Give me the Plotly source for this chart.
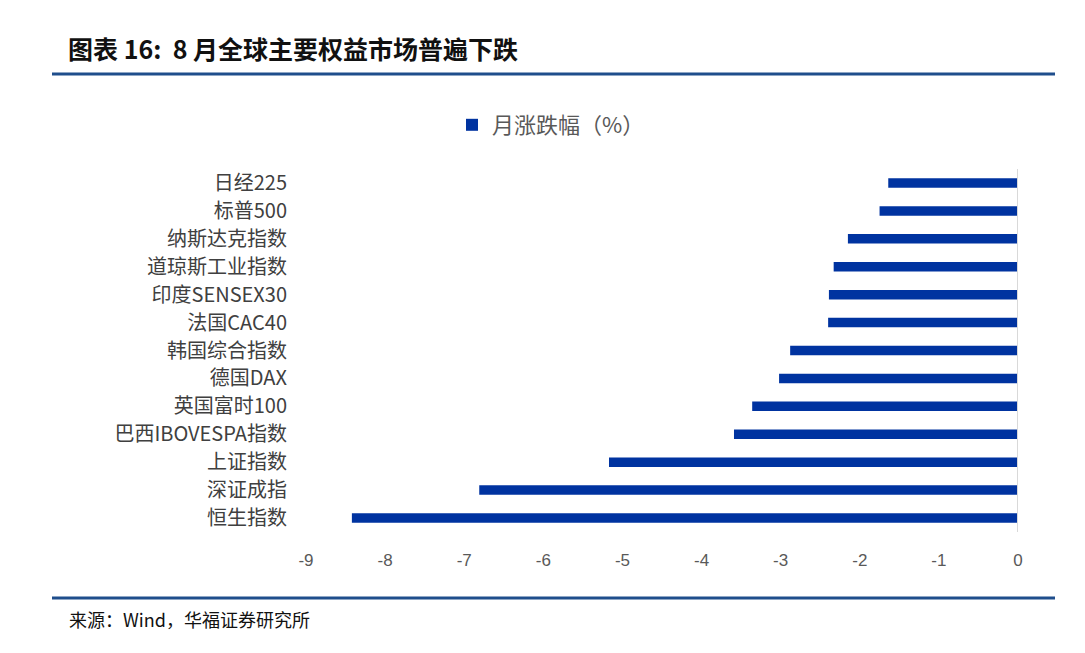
import plotly.graph_objects as go

categories = ["日经225", "标普500", "纳斯达克指数", "道琼斯工业指数", "印度SENSEX30",
              "法国CAC40", "韩国综合指数", "德国DAX", "英国富时100", "巴西IBOVESPA指数",
              "上证指数", "深证成指", "恒生指数"]
values = [-1.64, -1.75, -2.15, -2.33, -2.39, -2.40, -2.88, -3.02, -3.36, -3.59,
          -5.17, -6.81, -8.42]
series_name = "月涨跌幅（%）"
x_ticks = [-9, -8, -7, -6, -5, -4, -3, -2, -1, 0]

OFF = 8  # page body margin
W, H = 1085 - OFF, 653 - OFF
L, R, T, B = 306 - OFF, 1018 - OFF, 169 - OFF, 532 - OFF

def px_x(x):
    return (x - OFF - L) / (R - L)

def px_y(y):
    return (B - (y - OFF)) / (B - T)

fig = go.Figure()
fig.add_trace(go.Bar(
    y=categories, x=values, orientation="h", name=series_name,
    marker=dict(color="#0033A0", line=dict(width=0)),
))

fig.update_layout(
    width=W, height=H,
    margin=dict(l=L, r=W - R, t=T, b=H - B, pad=0),
    paper_bgcolor="white", plot_bgcolor="white",
    bargap=0.66,
    showlegend=True,
    legend=dict(orientation="h", x=px_x(452), y=px_y(104), xanchor="left", yanchor="top",
                font=dict(family="Noto Sans CJK SC", size=22, color="#595959"),
                itemwidth=30, bgcolor="rgba(0,0,0,0)"),
    xaxis=dict(range=[-9, 0], tickvals=x_ticks, ticktext=[str(v) for v in x_ticks],
               showgrid=False, zeroline=False, showline=False, ticks="",
               tickfont=dict(family="Liberation Sans, Noto Sans", size=17, color="#595959"),
               ticklabelstandoff=16, fixedrange=True),
    yaxis=dict(autorange="reversed", showgrid=False, zeroline=False, showline=False,
               ticks="", ticklabelstandoff=18,
               tickfont=dict(family="Noto Sans CJK SC", size=20, color="#404040")),
    font=dict(family="Noto Sans CJK SC"),
)

# zero axis line
fig.add_shape(type="line", xref="x", yref="paper", x0=0, x1=0,
              y0=px_y(532), y1=px_y(169), line=dict(color="#D9D9D9", width=2))

# header / footer rules
fig.add_shape(type="line", xref="paper", yref="paper", x0=px_x(52), x1=px_x(1055),
              y0=px_y(74), y1=px_y(74), line=dict(color="#1F4E8C", width=3))
fig.add_shape(type="line", xref="paper", yref="paper", x0=px_x(52), x1=px_x(1055),
              y0=px_y(598), y1=px_y(598), line=dict(color="#1F4E8C", width=3))

fig.add_annotation(text="<b>图表 16:  8 月全球主要权益市场普遍下跌</b>", xref="paper", yref="paper",
                   x=px_x(66), y=px_y(48), xanchor="left", yanchor="middle", showarrow=False,
                   font=dict(family="Noto Sans CJK SC", size=25, color="#111111"))
fig.add_annotation(text="来源：Wind，华福证券研究所", xref="paper", yref="paper",
                   x=px_x(67), y=px_y(619), xanchor="left", yanchor="middle", showarrow=False,
                   font=dict(family="Noto Sans CJK SC", size=18, color="#111111"))

fig.write_html("out.html")
